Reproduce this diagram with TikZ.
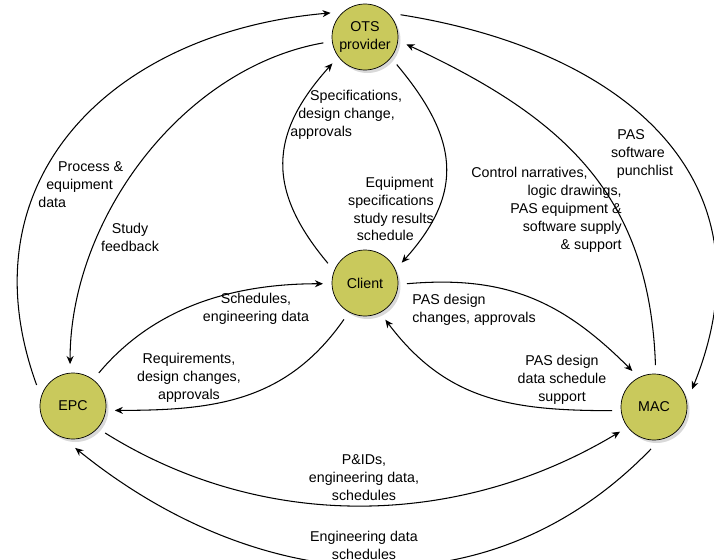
\documentclass[tikz,border=0pt]{standalone}
\usepackage{fontspec}
\setmainfont{Liberation Sans}
\usepackage{tikz}
\usetikzlibrary{arrows.meta, positioning, shadows}

\definecolor{partyfill}{RGB}{201,201,92}

\begin{document}
\begin{tikzpicture} [node distance = 4.92cm, on grid,
        font = \fontsize{8.1}{10.2}\selectfont,
        party/.style = {circle, draw, thin, fill=partyfill, minimum size=1.32cm,
            inner sep=0pt, outer sep=0.18cm, align=center,
            drop shadow={shadow xshift=0.05cm, shadow yshift=-0.06cm, opacity=0.3}},
        flow/.style = {-{Stealth[length=4.6pt, width=4pt]}, line width=0.6pt},
        note/.style = {inner sep=0pt}]
        \useasboundingbox (0,0) rectangle (14.28,-11.2);

        \node (ots) [party] at (7.30,-0.74) {OTS\\provider};
        \node (client) [party, below = of ots] {Client};
        \node (epc) [party, below left = 2.46cm and 5.84cm of client] {EPC};
        \node (mac) [party, below right = 2.48cm and 5.78cm of client] {MAC};

        % outer ring
        \path [flow] (epc.150) edge [out=110, in=185, looseness=1.18] (ots.145);
        \path [flow] (ots.32) edge [out=351, in=68, looseness=1.22] (mac.25);
        \path [flow] (mac.266) edge [out=226, in=321, looseness=1.04] (epc.273);

        % inner ring
        \path [flow] (ots.188) edge [out=190, in=90, looseness=0.9] (epc.94);
        \path [flow] (mac.88) edge [out=92, in=335, looseness=1.08] (ots.350);
        \path [flow] (epc.320) edge [out=328, in=211, looseness=0.93] (mac.216);

        % to and from the client
        \path [flow] (client.152) edge [out=130, in=228, looseness=1.22] (ots.219);
        \path [flow] (ots.319) edge [out=310, in=48, looseness=1.23] (client.29);
        \path [flow] (epc.52) edge [out=50, in=180, looseness=0.93] (client.181);
        \path [flow] (client.240) edge [out=235, in=0, looseness=1.04] (epc.354);
        \path [flow] (client.359) edge [out=5, in=135, looseness=1.05] (mac.121);
        \path [flow] (mac.185) edge [out=180, in=307, looseness=1.06] (client.299);

        % labels
        \node (process) [note, anchor=west, align=left] at (0.76,-3.70)
            {\hspace*{11.3pt}Process \&\\\hspace*{4.5pt}equipment\\data};
        \node (feedback) [note, align=center] at (2.60,-4.74) {Study\\feedback};
        \node (specs) [note, anchor=west, align=left] at (5.80,-2.30)
            {\hspace*{11.3pt}Specifications,\\\hspace*{4.5pt}design change,\\approvals};
        \node (equip) [note, anchor=east, align=right] at (8.68,-4.18)
            {Equipment\\specifications\hspace*{1.1pt}\\study results\hspace*{4.5pt}\\schedule\hspace*{11.3pt}};
        \node (control) [note, anchor=east, align=right] at (12.44,-4.19)
            {Control narratives,\hspace*{19.3pt}\\logic drawings,\hspace*{15.3pt}\\PAS equipment \&\hspace*{9.1pt}\\software supply\hspace*{5.1pt}\\\& support};
        \node (punch) [note, align=center] at (12.76,-3.08)
            {PAS\hspace*{7.9pt}\\software\\\hspace*{7.9pt}punchlist};
        \node (sched) [note, align=center] at (5.12,-6.18) {Schedules,\\engineering data};
        \node (req) [note, align=center] at (3.78,-7.56) {Requirements,\\design changes,\\approvals};
        \node (pasdesign) [note, anchor=west, align=left] at (8.24,-6.19) {PAS design\\changes, approvals};
        \node (pasdata) [note, align=center] at (11.24,-7.60) {PAS design\\data schedule\\support};
        \node (pids) [note, align=center] at (7.28,-9.56) {P\&IDs,\\engineering data,\\schedules};
        \node (engdata) [note, align=center] at (7.28,-10.90) {Engineering data\\schedules};
    \end{tikzpicture}
\end{document}
